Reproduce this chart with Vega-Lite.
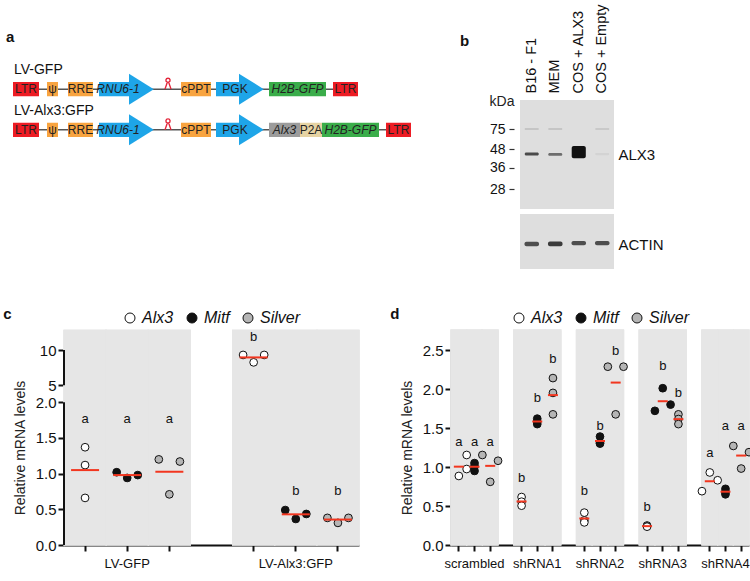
{
  "$schema": "https://vega.github.io/schema/vega-lite/v6.json",
  "background": "white",
  "padding": {"left": 3, "top": 3, "right": 5, "bottom": 5},
  "config": {
    "font": "Liberation Sans",
    "view": {"stroke": null},
    "axis": {"labelColor": "#222", "titleColor": "#222", "domainColor": "#111", "tickColor": "#111", "grid": false, "labelFont": "Liberation Sans", "titleFont": "Liberation Sans", "labelOverlap": false},
    "title": {"color": "#111", "font": "Liberation Sans"},
    "text": {"font": "Liberation Sans", "color": "#222"},
    "legend": {"layout": {"top": {"anchor": "middle"}}}
  },
  "resolve": {"scale": {"x": "independent", "y": "independent", "fill": "independent", "opacity": "independent", "xOffset": "independent"}},
  "spacing": 38,
  "vconcat": [
    {
      "spacing": 48,
      "resolve": {"scale": {"x": "independent", "y": "independent", "fill": "independent", "opacity": "independent"}},
      "hconcat": [
        {
          "width": 347,
          "height": 46,
          "title": {"text": "a", "anchor": "start", "frame": "group", "fontSize": 15, "fontWeight": "bold", "offset": 18, "dx": -58},
          "data": {"values": [
            {"c": "LV-GFP", "el": "LTR", "type": "LTR", "x0": 7, "x1": 33, "xm": 20, "gene": false},
            {"c": "LV-GFP", "el": "ψ", "type": "element", "x0": 41, "x1": 52, "xm": 46.5, "gene": false},
            {"c": "LV-GFP", "el": "RRE", "type": "element", "x0": 62, "x1": 87, "xm": 74.5, "gene": false},
            {"c": "LV-GFP", "el": "RNU6-1", "type": "promoter", "x0": 93, "x1": 123, "xm": 112, "gene": true},
            {"c": "LV-GFP", "el": "cPPT", "type": "element", "x0": 175, "x1": 205, "xm": 190, "gene": false},
            {"c": "LV-GFP", "el": "PGK", "type": "promoter", "x0": 210, "x1": 233, "xm": 229, "gene": false},
            {"c": "LV-GFP", "el": "H2B-GFP", "type": "reporter", "x0": 263, "x1": 320, "xm": 291.5, "gene": true},
            {"c": "LV-GFP", "el": "LTR", "type": "LTR", "x0": 327, "x1": 352, "xm": 339.5, "gene": false},
            {"c": "LV-Alx3:GFP", "el": "LTR", "type": "LTR", "x0": 7, "x1": 33, "xm": 20, "gene": false},
            {"c": "LV-Alx3:GFP", "el": "ψ", "type": "element", "x0": 41, "x1": 52, "xm": 46.5, "gene": false},
            {"c": "LV-Alx3:GFP", "el": "RRE", "type": "element", "x0": 62, "x1": 87, "xm": 74.5, "gene": false},
            {"c": "LV-Alx3:GFP", "el": "RNU6-1", "type": "promoter", "x0": 93, "x1": 123, "xm": 112, "gene": true},
            {"c": "LV-Alx3:GFP", "el": "cPPT", "type": "element", "x0": 175, "x1": 205, "xm": 190, "gene": false},
            {"c": "LV-Alx3:GFP", "el": "PGK", "type": "promoter", "x0": 210, "x1": 233, "xm": 229, "gene": false},
            {"c": "LV-Alx3:GFP", "el": "Alx3", "type": "gene", "x0": 263, "x1": 294, "xm": 278.5, "gene": true},
            {"c": "LV-Alx3:GFP", "el": "P2A", "type": "peptide", "x0": 294, "x1": 316, "xm": 305, "gene": false},
            {"c": "LV-Alx3:GFP", "el": "H2B-GFP", "type": "reporter", "x0": 316, "x1": 373, "xm": 344.5, "gene": true},
            {"c": "LV-Alx3:GFP", "el": "LTR", "type": "LTR", "x0": 380, "x1": 405, "xm": 392.5, "gene": false}
          ]},
          "encoding": {
            "y": {"field": "c", "type": "nominal", "scale": {"domain": ["LV-GFP", "LV-Alx3:GFP"], "range": [-18, 37], "paddingInner": 0.65, "paddingOuter": 0}, "axis": null}
          },
          "layer": [
            {
              "data": {"values": [
                {"c": "LV-GFP", "start": 7, "end": 352, "hp": 162},
                {"c": "LV-Alx3:GFP", "start": 7, "end": 405, "hp": 162}
              ]},
              "mark": {"type": "rule", "color": "#555", "strokeWidth": 1.5},
              "encoding": {
                "x": {"field": "start", "type": "quantitative", "scale": {"domain": [58, 405], "nice": false, "zero": false}, "axis": null},
                "x2": {"field": "end"}
              }
            },
            {
              "mark": {"type": "rect"},
              "encoding": {
                "x": {"field": "x0", "type": "quantitative"},
                "x2": {"field": "x1"},
                "fill": {"field": "type", "type": "nominal", "legend": null,
                  "scale": {"domain": ["LTR", "element", "promoter", "reporter", "gene", "peptide"], "range": ["#ed1c24", "#f8a440", "#1ea5e8", "#3aad4a", "#9c9c9c", "#e6d3a3"]}}
              }
            },
            {
              "transform": [{"filter": "datum.type == 'promoter'"}],
              "mark": {"type": "point", "shape": "M0,-1L1.6,0L0,1Z", "filled": true, "size": 961, "color": "#1ea5e8", "opacity": 1},
              "encoding": {"x": {"field": "x1", "type": "quantitative"}}
            },
            {
              "data": {"values": [
                {"c": "LV-GFP", "start": 7, "end": 352, "hp": 162},
                {"c": "LV-Alx3:GFP", "start": 7, "end": 405, "hp": 162}
              ]},
              "mark": {"type": "point", "shape": "M-0.55,0L-0.12,-1.25A0.38,0.38,0,1,1,0.12,-1.25L0.55,0", "filled": false, "size": 121, "color": "#e3263a", "strokeWidth": 1.4, "opacity": 1},
              "encoding": {"x": {"field": "hp", "type": "quantitative"}}
            },
            {
              "transform": [{"filter": "!datum.gene"}],
              "mark": {"type": "text", "fontSize": 12, "color": "#222"},
              "encoding": {"x": {"field": "xm", "type": "quantitative"}, "text": {"field": "el"}}
            },
            {
              "transform": [{"filter": "datum.gene"}],
              "mark": {"type": "text", "fontSize": 12, "fontStyle": "italic", "color": "#222"},
              "encoding": {"x": {"field": "xm", "type": "quantitative"}, "text": {"field": "el"}}
            },
            {
              "data": {"values": [
                {"c": "LV-GFP", "start": 7, "end": 352, "hp": 162},
                {"c": "LV-Alx3:GFP", "start": 7, "end": 405, "hp": 162}
              ]},
              "mark": {"type": "text", "fontSize": 14, "align": "left", "dy": -19, "dx": 1, "color": "#111"},
              "encoding": {"x": {"field": "start", "type": "quantitative"}, "text": {"field": "c"}}
            }
          ]
        },
        {
          "title": {"text": "b", "anchor": "start", "frame": "group", "fontSize": 15, "fontWeight": "bold", "offset": 0, "dx": -60, "dy": 45},
          "spacing": 5,
          "resolve": {"scale": {"y": "independent", "opacity": "independent"}},
          "vconcat": [
            {
              "width": 94,
              "height": 109,
              "view": {"fill": "#dedede", "stroke": null},
              "data": {"values": [
                {"lane": "B16 - F1", "top": 45.3, "bot": 43.1, "int": 0.72},
                {"lane": "MEM", "top": 45.0, "bot": 42.9, "int": 0.55},
                {"lane": "COS + ALX3", "top": 50.9, "bot": 41.4, "int": 1.0},
                {"lane": "COS + Empty", "top": 45.0, "bot": 43.3, "int": 0.05},
                {"lane": "B16 - F1", "top": 77.2, "bot": 73.0, "int": 0.12},
                {"lane": "MEM", "top": 77.2, "bot": 73.0, "int": 0.12},
                {"lane": "COS + Empty", "top": 77.2, "bot": 73.0, "int": 0.1}
              ]},
              "encoding": {
                "x": {"field": "lane", "type": "nominal", "scale": {"domain": ["B16 - F1", "MEM", "COS + ALX3", "COS + Empty"], "paddingInner": 0, "paddingOuter": 0},
                  "axis": {"orient": "top", "title": null, "labelAngle": -90, "ticks": false, "domain": false, "labelPadding": 7, "labelFontSize": 14.5, "labelColor": "#111"}}
              },
              "resolve": {"axis": {"y": "independent"}},
              "layer": [
                {
                  "mark": {"type": "bar", "width": {"band": 0.6}, "cornerRadius": 2, "color": "#111"},
                  "encoding": {
                    "y": {"field": "top", "type": "quantitative", "scale": {"type": "pow", "exponent": -1, "domain": [23.2, 400], "nice": false, "zero": false},
                      "axis": {"values": [75, 48, 36, 28], "tickCount": 10, "title": "kDa", "titleAngle": 0, "titleAlign": "right", "titleBaseline": "middle", "titleX": 0, "titleY": 1, "titleFontSize": 14, "titleFontWeight": "normal", "labelFontSize": 14, "labelColor": "#111", "domain": false, "offset": 6, "tickSize": 5, "tickWidth": 1.2, "tickColor": "#333", "labelPadding": 4}},
                    "y2": {"field": "bot"},
                    "opacity": {"field": "int", "type": "quantitative", "scale": {"domain": [0, 1], "range": [0, 1]}, "legend": null}
                  }
                },
                {
                  "mark": {"type": "point", "opacity": 0},
                  "encoding": {
                    "y": {"field": "top", "type": "quantitative",
                      "axis": {"orient": "right", "values": [44.2], "labelExpr": "'ALX3'", "ticks": false, "domain": false, "title": null, "labelFontSize": 15, "labelColor": "#111", "labelPadding": 4}}
                  }
                }
              ]
            },
            {
              "width": 94,
              "height": 55,
              "view": {"fill": "#dedede", "stroke": null},
              "data": {"values": [
                {"lane": "B16 - F1", "top": 42.45, "bot": 41.55, "int": 0.7},
                {"lane": "MEM", "top": 42.5, "bot": 41.55, "int": 0.8},
                {"lane": "COS + ALX3", "top": 42.6, "bot": 41.75, "int": 0.7},
                {"lane": "COS + Empty", "top": 42.6, "bot": 41.75, "int": 0.7}
              ]},
              "mark": {"type": "bar", "width": {"band": 0.62}, "cornerRadius": 2, "color": "#111"},
              "encoding": {
                "x": {"field": "lane", "type": "nominal", "scale": {"domain": ["B16 - F1", "MEM", "COS + ALX3", "COS + Empty"], "paddingInner": 0, "paddingOuter": 0}, "axis": null},
                "y": {"field": "top", "type": "quantitative", "scale": {"domain": [37, 48], "nice": false, "zero": false},
                  "axis": {"orient": "right", "values": [42], "labelExpr": "'ACTIN'", "ticks": false, "domain": false, "title": null, "labelFontSize": 15, "labelColor": "#111", "labelPadding": 4}},
                "y2": {"field": "bot"},
                "opacity": {"field": "int", "type": "quantitative", "scale": {"domain": [0, 1], "range": [0, 1]}, "legend": null}
              }
            }
          ]
        }
      ]
    },
    {
      "spacing": 30,
      "resolve": {"scale": {"x": "independent", "y": "independent", "fill": "independent", "xOffset": "independent"}},
      "hconcat": [
        {
          "width": 295,
          "height": 195,
          "title": {"text": "c", "anchor": "start", "frame": "bounds", "fontSize": 15, "fontWeight": "bold", "offset": 0, "dx": -10, "dy": 12},
          "resolve": {"scale": {"xOffset": "independent"}},
          "data": {"values": [
            {"k": "LV-GFP|Alx3", "g": "Alx3", "s": "C", "v": 1.37},
            {"k": "LV-GFP|Alx3", "g": "Alx3", "s": "C", "v": 1.12},
            {"k": "LV-GFP|Alx3", "g": "Alx3", "s": "C", "v": 0.66},
            {"k": "LV-GFP|Mitf", "g": "Mitf", "s": "L", "v": 1.02},
            {"k": "LV-GFP|Mitf", "g": "Mitf", "s": "C", "v": 0.94},
            {"k": "LV-GFP|Mitf", "g": "Mitf", "s": "R", "v": 0.98},
            {"k": "LV-GFP|Silver", "g": "Silver", "s": "L", "v": 1.2},
            {"k": "LV-GFP|Silver", "g": "Silver", "s": "R", "v": 1.17},
            {"k": "LV-GFP|Silver", "g": "Silver", "s": "C", "v": 0.71},
            {"k": "LV-Alx3:GFP|Alx3", "g": "Alx3", "s": "L", "v": 9.3},
            {"k": "LV-Alx3:GFP|Alx3", "g": "Alx3", "s": "R", "v": 9.3},
            {"k": "LV-Alx3:GFP|Alx3", "g": "Alx3", "s": "C", "v": 8.25},
            {"k": "LV-Alx3:GFP|Mitf", "g": "Mitf", "s": "L", "v": 0.49},
            {"k": "LV-Alx3:GFP|Mitf", "g": "Mitf", "s": "C", "v": 0.365},
            {"k": "LV-Alx3:GFP|Mitf", "g": "Mitf", "s": "R", "v": 0.435},
            {"k": "LV-Alx3:GFP|Silver", "g": "Silver", "s": "L", "v": 0.38},
            {"k": "LV-Alx3:GFP|Silver", "g": "Silver", "s": "C", "v": 0.31},
            {"k": "LV-Alx3:GFP|Silver", "g": "Silver", "s": "R", "v": 0.38}
          ]},
          "encoding": {
            "x": {"field": "k", "type": "nominal",
              "scale": {"domain": ["LV-GFP|Alx3", "LV-GFP|Mitf", "LV-GFP|Silver", "gap", "LV-Alx3:GFP|Alx3", "LV-Alx3:GFP|Mitf", "LV-Alx3:GFP|Silver"], "paddingInner": 0, "paddingOuter": 0},
              "axis": {"values": ["LV-GFP|Alx3", "LV-GFP|Mitf", "LV-GFP|Silver", "LV-Alx3:GFP|Alx3", "LV-Alx3:GFP|Mitf", "LV-Alx3:GFP|Silver"],
                "labelExpr": "indexof(datum.value, '|Mitf') > 0 ? split(datum.value, '|')[0] : ''",
                "title": null, "labelAngle": 0, "labelFontSize": 13, "labelPadding": 6, "tickSize": 6, "tickWidth": 2, "domainWidth": 2, "labelColor": "#111"}}
          },
          "layer": [
            {
              "mark": {"type": "bar", "width": {"band": 1}, "fill": "#e6e6e6", "stroke": "#e6e6e6", "strokeWidth": 1.2},
              "encoding": {"y": {"datum": 0, "type": "quantitative"}, "y2": {"datum": 12.8}}
            },
            {
              "data": {"values": [{"lo": 0, "hi": 2}, {"lo": 5, "hi": 10}]},
              "mark": {"type": "rule", "color": "#111", "strokeWidth": 2},
              "encoding": {"x": {"value": 0}, "y": {"field": "lo", "type": "quantitative"}, "y2": {"field": "hi"}}
            },
            {
              "mark": {"type": "point", "filled": true, "size": 60, "stroke": "#111", "strokeWidth": 1, "opacity": 1},
              "encoding": {
                "xOffset": {"field": "s", "type": "nominal", "scale": {"domain": ["L", "C", "R"], "paddingOuter": 1, "paddingInner": 0}},
                "y": {"field": "v", "type": "quantitative",
                  "scale": {"domain": [0, 2, 5, 10], "range": [195, 52.3, 35.3, 0], "nice": false, "zero": false},
                  "axis": {"values": [0, 0.5, 1, 1.5, 2, 5, 10], "tickCount": 10, "labelExpr": "datum.value >= 5 ? format(datum.value, 'd') : format(datum.value, '.1f')",
                    "title": "Relative mRNA levels", "titleFontSize": 14, "titleFontWeight": "normal", "titlePadding": 8, "labelFontSize": 15, "labelColor": "#111", "labelOverlap": false, "domain": false, "tickSize": 6, "tickWidth": 2, "labelPadding": 2}},
                "fill": {"field": "g", "type": "nominal", "scale": {"domain": ["Alx3", "Mitf", "Silver"], "range": ["#ffffff", "#111111", "#b5b5b5"]},
                  "legend": {"orient": "top", "direction": "horizontal", "title": null, "labelFontSize": 16, "labelFontStyle": "italic", "labelColor": "#111", "symbolSize": 100, "symbolType": "circle", "symbolStrokeColor": "#111", "symbolStrokeWidth": 1, "columnPadding": 10, "labelOffset": 4, "offset": 24}}
              }
            },
            {
              "mark": {"type": "tick", "color": "#f2361f", "thickness": 2, "size": 28, "opacity": 1},
              "encoding": {"y": {"aggregate": "mean", "field": "v", "type": "quantitative"}}
            },
            {
              "data": {"values": [
                {"k": "LV-GFP|Alx3", "t": "a", "ly": 1.76},
                {"k": "LV-GFP|Mitf", "t": "a", "ly": 1.76},
                {"k": "LV-GFP|Silver", "t": "a", "ly": 1.76},
                {"k": "LV-Alx3:GFP|Alx3", "t": "b", "ly": 11.9},
                {"k": "LV-Alx3:GFP|Mitf", "t": "b", "ly": 0.76},
                {"k": "LV-Alx3:GFP|Silver", "t": "b", "ly": 0.76}
              ]},
              "mark": {"type": "text", "fontSize": 13, "baseline": "middle", "color": "#111"},
              "encoding": {"y": {"field": "ly", "type": "quantitative"}, "text": {"field": "t"}}
            }
          ]
        },
        {
          "width": 298,
          "height": 195,
          "title": {"text": "d", "anchor": "start", "frame": "bounds", "fontSize": 15, "fontWeight": "bold", "offset": 0, "dx": -10, "dy": 12},
          "resolve": {"scale": {"xOffset": "independent"}},
          "data": {"values": [
            {"k": "scrambled|Alx3", "g": "Alx3", "s": "C", "v": 0.885},
            {"k": "scrambled|Alx3", "g": "Alx3", "s": "R", "v": 1.154},
            {"k": "scrambled|Alx3", "g": "Alx3", "s": "R", "v": 0.974},
            {"k": "scrambled|Mitf", "g": "Mitf", "s": "C", "v": 1.05},
            {"k": "scrambled|Mitf", "g": "Mitf", "s": "C", "v": 1.01},
            {"k": "scrambled|Mitf", "g": "Mitf", "s": "C", "v": 0.95},
            {"k": "scrambled|Silver", "g": "Silver", "s": "L", "v": 1.154},
            {"k": "scrambled|Silver", "g": "Silver", "s": "R", "v": 1.08},
            {"k": "scrambled|Silver", "g": "Silver", "s": "C", "v": 0.81},
            {"k": "shRNA1|Alx3", "g": "Alx3", "s": "C", "v": 0.615},
            {"k": "shRNA1|Alx3", "g": "Alx3", "s": "C", "v": 0.555},
            {"k": "shRNA1|Alx3", "g": "Alx3", "s": "C", "v": 0.504},
            {"k": "shRNA1|Mitf", "g": "Mitf", "s": "C", "v": 1.62},
            {"k": "shRNA1|Mitf", "g": "Mitf", "s": "C", "v": 1.58},
            {"k": "shRNA1|Mitf", "g": "Mitf", "s": "C", "v": 1.55},
            {"k": "shRNA1|Silver", "g": "Silver", "s": "C", "v": 2.14},
            {"k": "shRNA1|Silver", "g": "Silver", "s": "C", "v": 1.95},
            {"k": "shRNA1|Silver", "g": "Silver", "s": "C", "v": 1.675},
            {"k": "shRNA2|Alx3", "g": "Alx3", "s": "C", "v": 0.415},
            {"k": "shRNA2|Alx3", "g": "Alx3", "s": "C", "v": 0.315},
            {"k": "shRNA2|Alx3", "g": "Alx3", "s": "C", "v": 0.29},
            {"k": "shRNA2|Mitf", "g": "Mitf", "s": "C", "v": 1.39},
            {"k": "shRNA2|Mitf", "g": "Mitf", "s": "C", "v": 1.31},
            {"k": "shRNA2|Mitf", "g": "Mitf", "s": "C", "v": 1.3},
            {"k": "shRNA2|Silver", "g": "Silver", "s": "L", "v": 2.286},
            {"k": "shRNA2|Silver", "g": "Silver", "s": "R", "v": 2.286},
            {"k": "shRNA2|Silver", "g": "Silver", "s": "C", "v": 1.675},
            {"k": "shRNA3|Alx3", "g": "Alx3", "s": "C", "v": 0.25},
            {"k": "shRNA3|Alx3", "g": "Alx3", "s": "C", "v": 0.24},
            {"k": "shRNA3|Alx3", "g": "Alx3", "s": "C", "v": 0.235},
            {"k": "shRNA3|Mitf", "g": "Mitf", "s": "C", "v": 2.01},
            {"k": "shRNA3|Mitf", "g": "Mitf", "s": "L", "v": 1.72},
            {"k": "shRNA3|Mitf", "g": "Mitf", "s": "R", "v": 1.8},
            {"k": "shRNA3|Silver", "g": "Silver", "s": "C", "v": 1.675},
            {"k": "shRNA3|Silver", "g": "Silver", "s": "C", "v": 1.615},
            {"k": "shRNA3|Silver", "g": "Silver", "s": "C", "v": 1.55},
            {"k": "shRNA4|Alx3", "g": "Alx3", "s": "C", "v": 0.93},
            {"k": "shRNA4|Alx3", "g": "Alx3", "s": "R", "v": 0.83},
            {"k": "shRNA4|Alx3", "g": "Alx3", "s": "L", "v": 0.69},
            {"k": "shRNA4|Mitf", "g": "Mitf", "s": "C", "v": 0.72},
            {"k": "shRNA4|Mitf", "g": "Mitf", "s": "C", "v": 0.68},
            {"k": "shRNA4|Mitf", "g": "Mitf", "s": "C", "v": 0.65},
            {"k": "shRNA4|Silver", "g": "Silver", "s": "L", "v": 1.27},
            {"k": "shRNA4|Silver", "g": "Silver", "s": "R", "v": 1.19},
            {"k": "shRNA4|Silver", "g": "Silver", "s": "C", "v": 0.98}
          ]},
          "encoding": {
            "x": {"field": "k", "type": "nominal",
              "scale": {"domain": ["scrambled|Alx3", "scrambled|Mitf", "scrambled|Silver", "gap1", "shRNA1|Alx3", "shRNA1|Mitf", "shRNA1|Silver", "gap2", "shRNA2|Alx3", "shRNA2|Mitf", "shRNA2|Silver", "gap3", "shRNA3|Alx3", "shRNA3|Mitf", "shRNA3|Silver", "gap4", "shRNA4|Alx3", "shRNA4|Mitf", "shRNA4|Silver"], "paddingInner": 0, "paddingOuter": 0},
              "axis": {"values": ["scrambled|Alx3", "scrambled|Mitf", "scrambled|Silver", "shRNA1|Alx3", "shRNA1|Mitf", "shRNA1|Silver", "shRNA2|Alx3", "shRNA2|Mitf", "shRNA2|Silver", "shRNA3|Alx3", "shRNA3|Mitf", "shRNA3|Silver", "shRNA4|Alx3", "shRNA4|Mitf", "shRNA4|Silver"],
                "labelExpr": "indexof(datum.value, '|Mitf') > 0 ? split(datum.value, '|')[0] : ''",
                "title": null, "labelAngle": 0, "labelFontSize": 13, "labelPadding": 6, "tickSize": 6, "tickWidth": 2, "domainWidth": 2, "labelColor": "#111"}}
          },
          "layer": [
            {
              "mark": {"type": "bar", "width": {"band": 1}, "fill": "#e6e6e6", "stroke": "#e6e6e6", "strokeWidth": 1.2},
              "encoding": {"y": {"datum": 0, "type": "quantitative"}, "y2": {"datum": 2.756}}
            },
            {
              "mark": {"type": "point", "filled": true, "size": 60, "stroke": "#111", "strokeWidth": 1, "opacity": 1},
              "encoding": {
                "xOffset": {"field": "s", "type": "nominal", "scale": {"domain": ["L", "C", "R"], "paddingOuter": 0, "paddingInner": 0}},
                "y": {"field": "v", "type": "quantitative",
                  "scale": {"domain": [0, 2.5], "nice": false, "zero": false},
                  "axis": {"values": [0, 0.5, 1, 1.5, 2, 2.5], "tickCount": 10, "format": ".1f",
                    "title": "Relative mRNA levels", "titleFontSize": 14, "titleFontWeight": "normal", "titlePadding": 8, "labelFontSize": 15, "labelColor": "#111", "labelOverlap": false, "domain": true, "domainWidth": 2, "tickSize": 6, "tickWidth": 2, "labelPadding": 2}},
                "fill": {"field": "g", "type": "nominal", "scale": {"domain": ["Alx3", "Mitf", "Silver"], "range": ["#ffffff", "#111111", "#b5b5b5"]},
                  "legend": {"orient": "top", "direction": "horizontal", "title": null, "labelFontSize": 16, "labelFontStyle": "italic", "labelColor": "#111", "symbolSize": 100, "symbolType": "circle", "symbolStrokeColor": "#111", "symbolStrokeWidth": 1, "columnPadding": 10, "labelOffset": 4, "offset": 24}}
              }
            },
            {
              "mark": {"type": "tick", "color": "#f2361f", "thickness": 2, "size": 10, "opacity": 1},
              "encoding": {"y": {"aggregate": "mean", "field": "v", "type": "quantitative"}}
            },
            {
              "data": {"values": [
                {"k": "scrambled|Alx3", "t": "a", "ly": 1.32},
                {"k": "scrambled|Mitf", "t": "a", "ly": 1.32},
                {"k": "scrambled|Silver", "t": "a", "ly": 1.32},
                {"k": "shRNA1|Alx3", "t": "b", "ly": 0.86},
                {"k": "shRNA1|Mitf", "t": "b", "ly": 1.88},
                {"k": "shRNA1|Silver", "t": "b", "ly": 2.39},
                {"k": "shRNA2|Alx3", "t": "b", "ly": 0.69},
                {"k": "shRNA2|Mitf", "t": "b", "ly": 1.53},
                {"k": "shRNA2|Silver", "t": "b", "ly": 2.49},
                {"k": "shRNA3|Alx3", "t": "b", "ly": 0.49},
                {"k": "shRNA3|Mitf", "t": "b", "ly": 2.29},
                {"k": "shRNA3|Silver", "t": "b", "ly": 1.95},
                {"k": "shRNA4|Alx3", "t": "a", "ly": 1.175},
                {"k": "shRNA4|Mitf", "t": "a", "ly": 1.53},
                {"k": "shRNA4|Silver", "t": "a", "ly": 1.53}
              ]},
              "mark": {"type": "text", "fontSize": 13, "baseline": "middle", "color": "#111"},
              "encoding": {"y": {"field": "ly", "type": "quantitative"}, "text": {"field": "t"}}
            }
          ]
        }
      ]
    }
  ]
}
